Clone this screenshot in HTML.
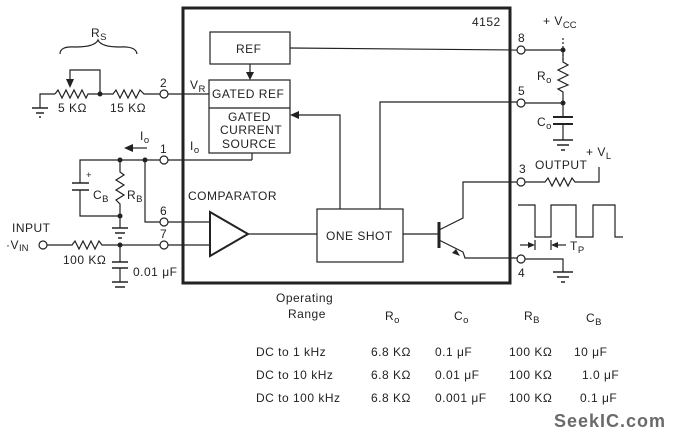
<!DOCTYPE html>
<html><head><meta charset="utf-8"><style>
html,body{margin:0;padding:0;background:#fff;}
svg{display:block;}
text{font-family:"Liberation Sans",Arial,sans-serif;fill:#222;font-size:12px;letter-spacing:0.5px;}
.s{font-size:9.5px;letter-spacing:0;}
</style></head><body>
<svg width="674" height="438" viewBox="0 0 674 438" xmlns="http://www.w3.org/2000/svg">
<g stroke="#222" stroke-width="1.2" fill="none">
<rect x="183" y="8" width="327" height="275" stroke-width="3"/>
<rect x="210" y="32" width="80" height="32"/>
<rect x="209" y="80" width="81" height="73"/>
<line x1="209" y1="108" x2="290" y2="108"/>
<rect x="317" y="209" width="86" height="53"/>
<polygon points="210,212 210,256 248,234" stroke-width="2"/>
<line x1="290" y1="48" x2="517" y2="50"/>
<line x1="250" y1="64" x2="250" y2="74"/>
<line x1="168" y1="94" x2="209" y2="94"/>
<line x1="168" y1="160" x2="252" y2="160"/><line x1="252" y1="160" x2="252" y2="153"/>
<line x1="168" y1="222" x2="210" y2="222"/>
<line x1="168" y1="245" x2="210" y2="245"/>
<line x1="248" y1="234" x2="317" y2="234"/>
<line x1="403" y1="234" x2="438" y2="234"/>
<polyline points="340,209 340,115 298,115"/>
<polyline points="380,209 380,102 517,102"/>
<line x1="439" y1="222" x2="439" y2="248" stroke-width="3"/>
<polyline points="439,230 463,218 463,182 517,182"/>
<polyline points="439,240 463,252 465,258 517,258"/>
<circle cx="521" cy="50" r="4"/><circle cx="521" cy="103" r="4"/>
<circle cx="521" cy="182" r="4"/><circle cx="521" cy="259" r="4"/>
<line x1="525" y1="50" x2="563" y2="50"/>
<line x1="563" y1="38" x2="563" y2="62" stroke-dasharray="2,2"/>
<polyline points="563,50 563,62 568,65 558,70 568,75 558,80 568,85 558,89 563,92 563,103"/>
<line x1="525" y1="103" x2="563" y2="103"/>
<line x1="563" y1="103" x2="563" y2="117"/>
<line x1="553" y1="117" x2="573" y2="117" stroke-width="2"/>
<line x1="553" y1="124" x2="573" y2="124" stroke-width="2"/>
<line x1="563" y1="124" x2="563" y2="140"/>
<line x1="553" y1="140" x2="573" y2="140" stroke-width="1.5"/>
<line x1="557" y1="145" x2="569" y2="145" stroke-width="1.5"/>
<line x1="561" y1="150" x2="565" y2="150" stroke-width="1.5"/>
<polyline points="525,182 545,182 548,178 552,186 556,178 560,186 564,178 568,186 572,178 575,182 599,182 599,167"/>
<polyline points="525,259 563,259 563,272"/>
<line x1="553" y1="272" x2="573" y2="272" stroke-width="1.5"/>
<line x1="557" y1="277" x2="569" y2="277" stroke-width="1.5"/>
<line x1="561" y1="282" x2="565" y2="282" stroke-width="1.5"/>
<polyline points="518,205 535,205 535,237 551,237 551,205 576,205 576,237 593,237 593,205 615,205 615,237 623,237"/>
<line x1="520" y1="245" x2="532" y2="245"/><line x1="535" y1="240" x2="535" y2="250"/>
<line x1="551" y1="240" x2="551" y2="250"/><line x1="555" y1="245" x2="566" y2="245"/>
<path d="M60,54 Q60,46 75,47 Q95,47 98,40 Q101,47 120,47 Q136,46 137,54"/>
<polyline points="55,94 40,94 40,108"/>
<line x1="32" y1="108" x2="48" y2="108" stroke-width="1.5"/>
<line x1="36" y1="113" x2="44" y2="113" stroke-width="1.5"/>
<line x1="39" y1="117" x2="41" y2="117" stroke-width="1.5"/>
<polyline points="55,94 58,90 62,98 66,90 70,98 74,90 78,98 82,90 86,98 88,94 113,94 116,90 120,98 124,90 128,98 132,90 136,98 140,90 144,94 160,94"/>
<polyline points="70,84 70,70 100,70 100,94"/>
<circle cx="164" cy="94" r="4"/>
<circle cx="164" cy="160" r="4"/><circle cx="164" cy="222" r="4"/><circle cx="164" cy="245" r="4"/>
<polyline points="160,160 80,160 80,183"/>
<line x1="72" y1="183" x2="89" y2="183" stroke-width="1.5"/>
<line x1="72" y1="190" x2="89" y2="190" stroke-width="1.5"/>
<polyline points="80,190 80,216 120,216"/>
<polyline points="120,160 120,172 124,175 116,180 124,185 116,190 124,195 116,200 120,204 120,228"/>
<line x1="112" y1="228" x2="128" y2="228" stroke-width="1.5"/>
<line x1="115" y1="233" x2="125" y2="233" stroke-width="1.5"/>
<line x1="118" y1="238" x2="122" y2="238" stroke-width="1.5"/>
<polyline points="145,160 145,222 160,222"/>
<line x1="133" y1="148" x2="147" y2="148"/>
<circle cx="43" cy="245" r="4"/>
<polyline points="47,245 72,245 75,241 79,249 83,241 87,249 91,241 95,249 99,241 102,245 160,245"/>
<line x1="120" y1="245" x2="120" y2="262"/>
<line x1="112" y1="262" x2="128" y2="262" stroke-width="1.5"/>
<line x1="112" y1="268" x2="128" y2="268" stroke-width="1.5"/>
<line x1="120" y1="268" x2="120" y2="282"/>
<line x1="112" y1="282" x2="128" y2="282" stroke-width="1.5"/>
<line x1="115" y1="287" x2="125" y2="287" stroke-width="1.5"/>
</g>
<g fill="#222">
<circle cx="100" cy="94" r="2.5"/><circle cx="120" cy="160" r="2.5"/><circle cx="145" cy="160" r="2.5"/>
<circle cx="120" cy="216" r="2.5"/><circle cx="120" cy="245" r="2.5"/>
<circle cx="563" cy="50" r="2.5"/><circle cx="563" cy="103" r="2.5"/>
<polygon points="66,79 74,79 70,88"/>
<polygon points="246,72 254,72 250,80"/>
<polygon points="290,115 299,111 299,119"/>
<polygon points="124,148 133,144 133,152"/>
<polygon points="460,256 452,253 456,249"/>
<polygon points="535,245 528,242 528,248"/><polygon points="551,245 558,242 558,248"/>
</g>
<text x="91" y="37">R<tspan class="s" dy="3">S</tspan></text>
<text x="58" y="112">5 KΩ</text><text x="110" y="112">15 KΩ</text>
<text x="160" y="87">2</text><text x="160" y="153">1</text><text x="160" y="215">6</text><text x="160" y="238">7</text>
<text x="190" y="89">V<tspan class="s" dy="3">R</tspan></text>
<text x="190" y="150">I<tspan class="s" dy="3">o</tspan></text>
<text x="140" y="140">I<tspan class="s" dy="3">o</tspan></text>
<text x="86" y="178" class="s">+</text>
<text x="93" y="199">C<tspan class="s" dy="3">B</tspan></text>
<text x="127" y="199">R<tspan class="s" dy="3">B</tspan></text>
<text x="12" y="232">INPUT</text>
<text x="6" y="249">·V<tspan class="s" dy="2">IN</tspan></text>
<text x="63" y="264">100 KΩ</text>
<text x="133" y="276">0.01 μF</text>
<text x="236" y="53">REF</text>
<text x="212" y="98">GATED REF</text>
<text x="228" y="121">GATED</text><text x="220" y="134">CURRENT</text><text x="222" y="148">SOURCE</text>
<text x="188" y="200">COMPARATOR</text>
<text x="326" y="240">ONE SHOT</text>
<text x="472" y="26">4152</text>
<text x="518" y="42">8</text><text x="518" y="95">5</text><text x="519" y="173">3</text><text x="518" y="277">4</text>
<text x="543" y="25">+ V<tspan class="s" dy="3">CC</tspan></text>
<text x="537" y="80">R<tspan class="s" dy="3">o</tspan></text>
<text x="537" y="126">C<tspan class="s" dy="3">o</tspan></text>
<text x="535" y="169">OUTPUT</text>
<text x="586" y="156">+ V<tspan class="s" dy="3">L</tspan></text>
<text x="570" y="250">T<tspan class="s" dy="3">P</tspan></text>
<text x="276" y="302">Operating</text><text x="288" y="318">Range</text>
<text x="385" y="320">R<tspan class="s" dy="3">o</tspan></text>
<text x="454" y="320">C<tspan class="s" dy="3">o</tspan></text>
<text x="524" y="320">R<tspan class="s" dy="3">B</tspan></text>
<text x="586" y="322">C<tspan class="s" dy="3">B</tspan></text>
<text x="256" y="356">DC to 1 kHz</text><text x="371" y="356">6.8 KΩ</text><text x="435" y="356">0.1 μF</text><text x="509" y="356">100 KΩ</text><text x="574" y="356">10 μF</text>
<text x="256" y="379">DC to 10 kHz</text><text x="371" y="379">6.8 KΩ</text><text x="435" y="379">0.01 μF</text><text x="509" y="379">100 KΩ</text><text x="582" y="379">1.0 μF</text>
<text x="256" y="402">DC to 100 kHz</text><text x="371" y="402">6.8 KΩ</text><text x="435" y="402">0.001 μF</text><text x="509" y="402">100 KΩ</text><text x="580" y="402">0.1 μF</text>
<text x="554" y="427" style="font-size:18px;font-weight:bold;fill:#6a6a6a;letter-spacing:1px">SeekIC.com</text>
</svg>
</body></html>
